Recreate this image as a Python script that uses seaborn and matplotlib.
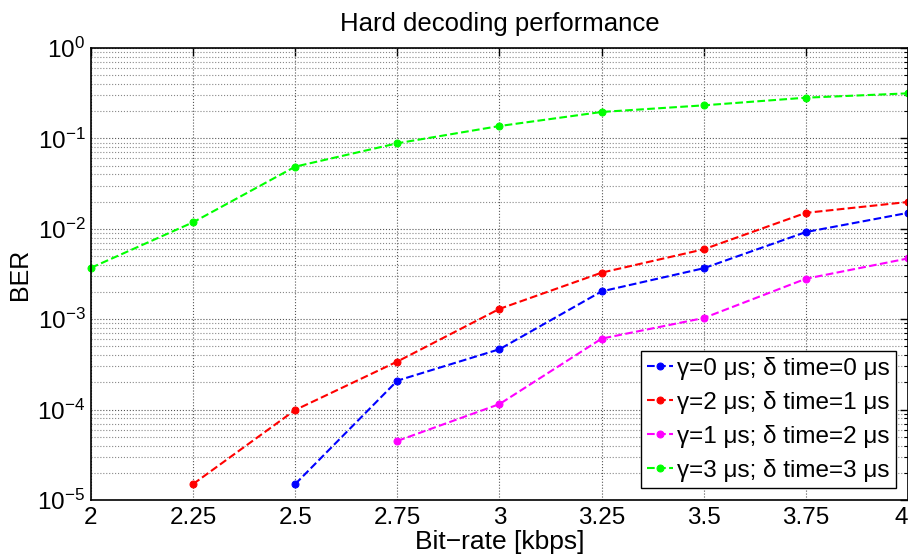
import numpy as np
import pandas as pd
import matplotlib
matplotlib.use("Agg")
import matplotlib.pyplot as plt
import matplotlib.ticker as mticker
import seaborn as sns

# Data
bitrate = [2.0, 2.25, 2.5, 2.75, 3.0, 3.25, 3.5, 3.75, 4.0]

ber_g0_d0 = [np.nan, np.nan, 1.5e-5, 2.09e-4, 4.65e-4, 2.03e-3, 3.66e-3, 9.2e-3, 1.50e-2]
ber_g2_d1 = [np.nan, 1.5e-5, 9.9e-5, 3.4e-4, 1.30e-3, 3.27e-3, 5.93e-3, 1.50e-2, 1.98e-2]
ber_g1_d2 = [np.nan, np.nan, np.nan, 4.5e-5, 1.15e-4, 6.09e-4, 1.03e-3, 2.8e-3, 4.7e-3]
ber_g3_d3 = [3.7e-3, 1.18e-2, 4.87e-2, 8.83e-2, 0.137, 0.196, 0.232, 0.282, 0.315]

labels = ["\u03b3=0 \u03bcs; \u03b4 time=0 \u03bcs",
          "\u03b3=2 \u03bcs; \u03b4 time=1 \u03bcs",
          "\u03b3=1 \u03bcs; \u03b4 time=2 \u03bcs",
          "\u03b3=3 \u03bcs; \u03b4 time=3 \u03bcs"]
colors = ["#0000ff", "#ff0000", "#ff00ff", "#00ff00"]

sns.set_style("white", {"text.color": "black", "axes.labelcolor": "black",
                        "xtick.color": "black", "ytick.color": "black",
                        "axes.edgecolor": "black"})
plt.rcParams['font.family'] = ['Liberation Sans', 'DejaVu Sans']
plt.rcParams['mathtext.fontset'] = 'custom'
plt.rcParams['mathtext.rm'] = 'Liberation Sans'
plt.rcParams['mathtext.it'] = 'Liberation Sans:italic'

fig = plt.figure(figsize=(9.08, 5.58), dpi=100)
ax = fig.add_axes([0.1002, 0.104, 0.8998, 0.810])

series = [ber_g0_d0, ber_g2_d1, ber_g1_d2, ber_g3_d3]
for vals, lab, col in zip(series, labels, colors):
    df = pd.DataFrame({"x": bitrate, "y": vals}).dropna()
    sns.lineplot(data=df, x="x", y="y", ax=ax, color=col, label=lab,
                 linestyle="--", linewidth=1.5, marker="o", markersize=5,
                 markerfacecolor=col, markeredgecolor=col, clip_on=False)

ax.set_yscale("log")
ax.set_xlim(2, 4)
ax.set_ylim(1e-5, 1)
ax.set_xticks(bitrate)
ax.set_xticklabels(["2", "2.25", "2.5", "2.75", "3", "3.25", "3.5", "3.75", "4"])
ax.yaxis.set_major_locator(mticker.LogLocator(base=10, numticks=10))
ax.yaxis.set_minor_locator(mticker.LogLocator(base=10, subs=np.arange(2, 10), numticks=20))
ax.yaxis.set_minor_formatter(mticker.NullFormatter())

ax.grid(True, which="major", linestyle=":", color="#555555", linewidth=0.8)
ax.yaxis.grid(True, which="minor", linestyle=":", color="#888888", linewidth=0.8)
ax.set_axisbelow(True)

ax.tick_params(which="both", direction="in", top=True, right=True, labelsize=17.5, colors="black")
ax.tick_params(which="major", length=6, width=1)
ax.tick_params(which="minor", length=3, width=0.8)
ax.tick_params(axis="x", pad=5)
ax.tick_params(axis="y", pad=4)
for sp in ax.spines.values():
    sp.set_color("black")
    sp.set_linewidth(1.2)

ax.set_title("Hard decoding performance", fontsize=18.5, pad=12, color="black")
ax.set_xlabel("Bit\u2212rate [kbps]", fontsize=19, labelpad=1)
ax.set_ylabel("BER", fontsize=18, labelpad=4)

leg = ax.legend(loc="lower right", fontsize=17.5, frameon=True, fancybox=False,
                edgecolor="black", framealpha=1, handlelength=1.1, handletextpad=0.15,
                borderpad=0.25, labelspacing=0.45, borderaxespad=0.5)
leg.get_frame().set_linewidth(1.0)

fig.canvas.draw()
last = ax.get_xticklabels()[-1]
last.set_horizontalalignment("right")

fig.savefig("out.png", dpi=100)
